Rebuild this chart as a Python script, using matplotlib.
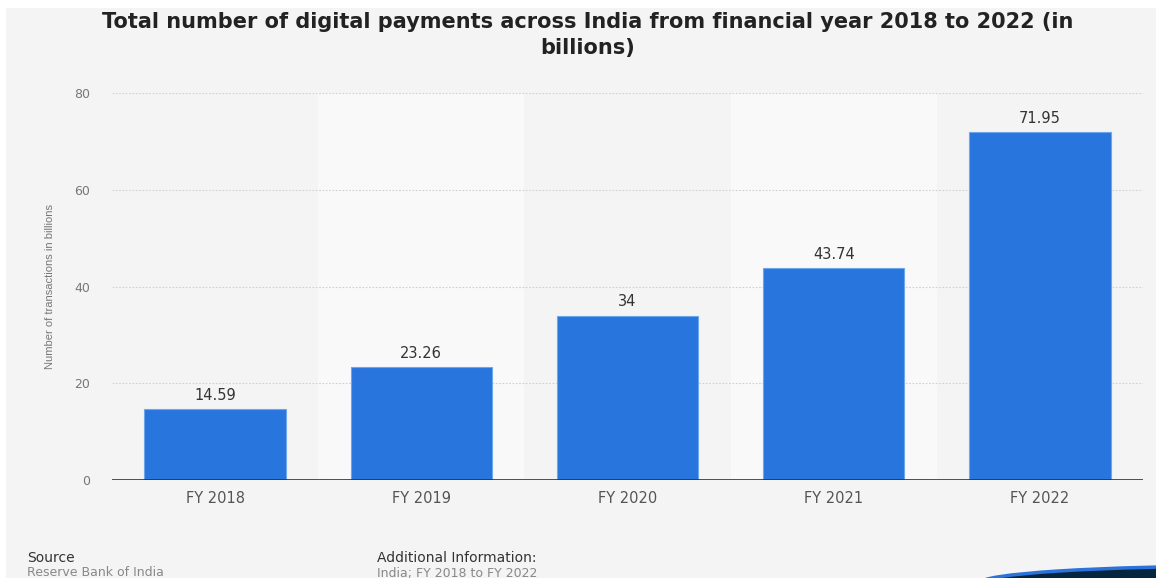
import matplotlib.pyplot as plt
from matplotlib.patches import Rectangle, Ellipse

years = ["FY 2018", "FY 2019", "FY 2020", "FY 2021", "FY 2022"]
payments = [14.59, 23.26, 34, 43.74, 71.95]
value_labels = ["14.59", "23.26", "34", "43.74", "71.95"]
y_ticks = [0, 20, 40, 60, 80]

W, H = 1156, 578
fig = plt.figure(figsize=(W / 100, H / 100), dpi=100, facecolor="white")

# grey card behind everything
fig.patches.append(Rectangle((6 / W, 0), (W - 6) / W, (H - 8) / H,
                             transform=fig.transFigure, facecolor="#f4f4f4",
                             edgecolor="none", zorder=0))
# dark swoosh in the bottom right corner
fig.patches.append(Ellipse((1250 / W, -5 / H), 540 / W, 34 / H,
                           transform=fig.transFigure, facecolor="#062640",
                           edgecolor="#2b73da", lw=2.5, zorder=1))

ax = fig.add_axes([112 / W, 1 - 480 / H, (1143 - 112) / W, (480 - 93) / H])
ax.set_facecolor("none")
ax.set_zorder(2)

x = range(len(years))
# alternating lighter bands behind every other category
for i in x:
    if i % 2 == 1:
        ax.axvspan(i - 0.5, i + 0.5, color="#f9f9f9", zorder=0, lw=0)

bars = ax.bar(x, payments, width=0.685, color="#2875dd", edgecolor="#6ea6ec",
              linewidth=0.8, zorder=3)
for b, lab in zip(bars, value_labels):
    ax.text(b.get_x() + b.get_width() / 2, b.get_height() + 1.3, lab,
            ha="center", va="bottom", fontsize=10.5, color="#333333", zorder=4)

ax.set_xlim(-0.5, len(years) - 0.5)
ax.set_ylim(0, 80)
ax.set_yticks(y_ticks)
ax.set_xticks(list(x))
ax.set_xticklabels(years)
ax.tick_params(axis="y", length=0, pad=16, labelsize=9, labelcolor="#777777")
ax.tick_params(axis="x", length=0, pad=8, labelsize=10.5, labelcolor="#555555")

ax.grid(axis="y", color="#d0d0d0", linestyle=(0, (1.5, 1.5)), linewidth=0.8, zorder=1)
ax.axhline(0, color="#333333", lw=1.2, zorder=5)
for s in ax.spines.values():
    s.set_visible(False)

narrow = ["Liberation Sans Narrow", "Liberation Sans", "DejaVu Sans"]
fig.text(50 / W, 1 - 287 / H, "Number of transactions in billions",
         rotation=90, ha="center", va="center", fontsize=8, color="#777777",
         family=narrow)

fig.text(588 / W, 1 - 35 / H,
         "Total number of digital payments across India from financial year 2018 to 2022 (in\nbillions)",
         ha="center", va="center", fontsize=15, fontweight="bold", color="#222222",
         linespacing=1.38)

foot = ["DejaVu Sans"]
fig.text(27 / W, 1 - 558 / H, "Source", fontsize=10, color="#333333",
         va="center", family=foot)
fig.text(27 / W, 1 - 573 / H, "Reserve Bank of India", fontsize=9, color="#888888",
         va="center", family=foot)
fig.text(377 / W, 1 - 558 / H, "Additional Information:", fontsize=10, color="#333333",
         va="center", family=foot)
fig.text(377 / W, 1 - 573 / H, "India; FY 2018 to FY 2022", fontsize=9, color="#888888",
         va="center", family=foot)

fig.savefig("out.png", dpi=100, facecolor=fig.get_facecolor())
